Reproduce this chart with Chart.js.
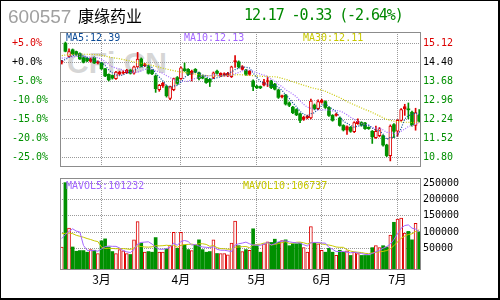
<!DOCTYPE html>
<html>
<head>
<meta charset="utf-8">
<script src="https://cdn.jsdelivr.net/npm/chart.js@4.4.1/dist/chart.umd.min.js"></script>
<style>
  html, body { margin: 0; padding: 0; background: #fff; }
  #wrap { position: relative; width: 500px; height: 300px; overflow: hidden; background: #fff; }
  #frame { position: absolute; left: 0; top: 0; width: 500px; height: 300px; box-sizing: border-box;
           border: 1px solid #000; border-right-width: 2px; border-bottom-width: 2px; z-index: 5; }
  canvas { position: absolute; left: 0; z-index: 2; }
  #priceCanvas { top: 0; }
  #volCanvas { top: 170px; }
  .txt { position: absolute; white-space: nowrap; z-index: 3; }
  .small { font: 10px "DejaVu Sans Mono", monospace; }
  #code { left: 8px; top: 6px; font: 19px "Liberation Sans", Arial, sans-serif; color: #a0a0a0; }
  #name { left: 78px; top: 3px; font: 16px "Noto Sans CJK SC", sans-serif; color: #000; }
  #quote { left: 244px; top: 6px; font: 15px "DejaVu Sans Mono", monospace; letter-spacing: -1.1px; color: #008800; }
  #mark { left: 67px; top: 46px; font: bold 30px "Liberation Sans", Arial, sans-serif; color: #d6d6d6; z-index: 1; }
</style>
</head>
<body>
<div id="wrap">
  <div id="code" class="txt"></div>
  <div id="name" class="txt"></div>
  <div id="quote" class="txt"></div>
  <div id="mark" class="txt">CFi.CN</div>
  <div id="ma5Label" class="txt small" style="left:66px;top:32px;color:#0a4a96"></div>
  <div id="ma10Label" class="txt small" style="left:184px;top:32px;color:#a366ff"></div>
  <div id="ma30Label" class="txt small" style="left:303px;top:32px;color:#c8c800"></div>
  <div id="mavol5Label" class="txt small" style="left:66px;top:180px;color:#a366ff"></div>
  <div id="mavol10Label" class="txt small" style="left:243px;top:180px;color:#c8c800"></div>
  <canvas id="priceCanvas" width="500" height="175"></canvas>
  <canvas id="volCanvas" width="500" height="130"></canvas>
  <div id="frame"></div>
</div>
<script>
const stockCode = "600557";
const stockName = "康缘药业";
const lastPrice = 12.17;
const priceChange = -0.33;
const changePct = -2.64;
const basePrice = 14.40;

const monthStarts = [11, 33, 54, 72, 93];
const monthNames = ["3月", "4月", "5月", "6月", "7月"];
const priceTicks = [15.12, 14.40, 13.68, 12.96, 12.24, 11.52, 10.80];
const pctTicks = [5, 0, -5, -10, -15, -20, -25];
const volTicks = [250000, 200000, 150000, 100000, 50000];

const opens = [
  14.40, 15.12, 14.62, 14.87, 14.80, 14.72, 14.57, 14.55, 14.43, 14.57,
  14.37, 14.37, 14.15, 13.94, 13.90, 13.78, 13.95, 13.98, 14.00, 14.10,
  13.98, 14.22, 14.52, 14.27, 14.22, 14.10, 13.88, 13.36, 13.50, 13.48,
  13.03, 13.36, 13.82, 13.78, 14.15, 14.13, 13.94, 14.13, 14.00, 13.88,
  13.78, 13.75, 13.82, 14.06, 13.88, 13.90, 13.88, 13.85, 14.42, 14.41,
  14.13, 14.10, 13.94, 13.69, 13.49, 13.48, 13.53, 13.67, 13.69, 13.57,
  13.35, 13.10, 13.16, 12.86, 12.70, 12.61, 12.45, 12.24, 12.29, 12.29,
  12.78, 12.64, 12.88, 12.91, 12.69, 12.39, 12.39, 12.29, 12.01, 11.83,
  11.94, 11.77, 12.08, 12.12, 12.10, 11.94, 11.79, 11.55, 11.62, 11.62,
  11.27, 10.87, 12.04, 11.79, 12.20, 12.64, 12.63, 12.51, 12.01, 12.39
];
const highs = [
  14.47, 15.16, 14.90, 14.90, 14.82, 14.75, 14.60, 14.57, 14.56, 14.60,
  14.45, 14.40, 14.17, 13.96, 13.92, 14.05, 14.06, 14.08, 14.13, 14.12,
  14.25, 14.77, 14.56, 14.36, 14.28, 14.12, 13.92, 13.56, 13.64, 13.52,
  13.50, 13.80, 13.86, 14.22, 14.37, 14.16, 14.10, 14.16, 14.03, 13.90,
  13.80, 13.78, 14.03, 14.10, 14.00, 14.00, 14.02, 14.25, 14.65, 14.45,
  14.27, 14.13, 14.09, 13.73, 13.53, 13.50, 13.75, 13.82, 13.72, 13.60,
  13.38, 13.16, 13.18, 12.90, 12.73, 12.64, 12.48, 12.36, 12.40, 13.01,
  12.82, 12.98, 13.00, 12.94, 12.71, 12.42, 12.48, 12.32, 12.04, 12.00,
  11.97, 12.15, 12.26, 12.15, 12.13, 11.96, 11.82, 11.99, 11.93, 11.65,
  11.30, 12.03, 12.08, 12.23, 12.65, 12.81, 12.86, 12.55, 12.66, 12.61
];
const lows = [
  14.33, 14.79, 14.60, 14.68, 14.66, 14.50, 14.37, 14.42, 14.40, 14.35,
  14.33, 14.12, 13.85, 13.69, 13.76, 13.75, 13.92, 13.95, 13.97, 13.95,
  13.95, 14.20, 14.22, 14.23, 13.95, 13.93, 13.26, 13.30, 13.45, 13.08,
  12.98, 13.32, 13.56, 13.75, 14.05, 13.90, 13.69, 14.00, 13.73, 13.77,
  13.60, 13.48, 13.78, 13.95, 13.85, 13.87, 13.85, 13.82, 14.20, 14.18,
  14.10, 13.90, 13.90, 13.32, 13.40, 13.40, 13.50, 13.48, 13.40, 13.35,
  13.03, 13.05, 12.78, 12.72, 12.45, 12.38, 12.11, 12.20, 12.26, 12.26,
  12.60, 12.61, 12.85, 12.65, 12.35, 12.17, 12.36, 11.98, 11.80, 11.67,
  11.75, 11.74, 12.05, 11.98, 11.86, 11.86, 11.33, 11.52, 11.58, 11.23,
  10.83, 10.67, 11.55, 11.60, 12.17, 12.39, 12.26, 11.98, 11.83, 12.14
];
const closes = [
  14.41, 14.81, 14.80, 14.72, 14.70, 14.52, 14.40, 14.45, 14.52, 14.37,
  14.41, 14.15, 13.88, 13.73, 13.80, 14.03, 14.03, 14.01, 14.10, 13.98,
  14.22, 14.52, 14.25, 14.31, 13.98, 13.96, 13.40, 13.53, 13.60, 13.13,
  13.48, 13.78, 13.60, 14.19, 14.08, 13.94, 14.06, 14.03, 13.78, 13.80,
  13.63, 13.65, 14.00, 13.98, 13.98, 13.97, 13.98, 14.22, 14.44, 14.22,
  14.23, 13.94, 14.06, 13.48, 13.43, 13.43, 13.65, 13.69, 13.44, 13.38,
  13.07, 13.13, 12.82, 12.77, 12.49, 12.41, 12.20, 12.33, 12.36, 12.93,
  12.64, 12.91, 12.96, 12.69, 12.39, 12.20, 12.42, 12.01, 11.84, 11.97,
  11.79, 12.12, 12.17, 12.02, 11.89, 11.89, 11.58, 11.79, 11.89, 11.27,
  10.87, 11.99, 11.79, 12.20, 12.61, 12.72, 12.60, 12.02, 12.50, 12.17
];
const volumes = [
  54000, 252000, 112000, 54000, 41000, 43000, 43000, 38000, 46000, 44000,
  34000, 73000, 79000, 54000, 40000, 34000, 46000, 42000, 34000, 31000,
  76000, 132000, 66000, 38000, 40000, 38000, 83000, 38000, 38000, 48000,
  60000, 99000, 50000, 99000, 60000, 46000, 43000, 60000, 76000, 46000,
  38000, 40000, 76000, 34000, 34000, 34000, 30000, 66000, 134000, 58000,
  40000, 46000, 44000, 110000, 58000, 38000, 64000, 70000, 68000, 78000,
  68000, 74000, 76000, 58000, 64000, 64000, 66000, 52000, 38000, 117000,
  68000, 64000, 44000, 38000, 50000, 38000, 28000, 44000, 38000, 42000,
  28000, 38000, 34000, 28000, 28000, 28000, 52000, 58000, 52000, 58000,
  54000, 91000, 130000, 140000, 143000, 97000, 102000, 76000, 127000, 101000
];
const ma5 = [
  14.45, 14.50, 14.58, 14.65, 14.69, 14.71, 14.63, 14.56, 14.52, 14.45,
  14.43, 14.38, 14.27, 14.11, 13.99, 13.92, 13.89, 13.92, 13.99, 14.03,
  14.07, 14.17, 14.21, 14.26, 14.26, 14.20, 13.98, 13.84, 13.69, 13.52,
  13.43, 13.50, 13.52, 13.64, 13.83, 13.92, 13.97, 14.06, 13.98, 13.92,
  13.86, 13.78, 13.77, 13.81, 13.85, 13.92, 13.98, 14.03, 14.12, 14.17,
  14.22, 14.21, 14.18, 13.99, 13.83, 13.67, 13.61, 13.54, 13.53, 13.52,
  13.45, 13.34, 13.17, 13.03, 12.86, 12.72, 12.54, 12.44, 12.36, 12.45,
  12.49, 12.63, 12.76, 12.83, 12.72, 12.63, 12.53, 12.34, 12.17, 12.09,
  12.01, 11.95, 11.98, 12.01, 12.00, 12.02, 11.91, 11.83, 11.81, 11.68,
  11.48, 11.56, 11.56, 11.62, 11.89, 12.26, 12.38, 12.43, 12.49, 12.39
];
const ma10 = [
  14.55, 14.56, 14.58, 14.60, 14.62, 14.62, 14.61, 14.60, 14.59, 14.57,
  14.57, 14.51, 14.42, 14.32, 14.22, 14.18, 14.14, 14.10, 14.05, 14.01,
  14.00, 14.03, 14.07, 14.13, 14.15, 14.14, 14.08, 14.03, 13.98, 13.89,
  13.82, 13.74, 13.68, 13.67, 13.68, 13.68, 13.74, 13.79, 13.81, 13.88,
  13.89, 13.88, 13.92, 13.90, 13.89, 13.89, 13.88, 13.90, 13.97, 14.01,
  14.07, 14.10, 14.11, 14.06, 14.00, 13.95, 13.91, 13.86, 13.76, 13.68,
  13.56, 13.48, 13.36, 13.28, 13.19, 13.09, 12.94, 12.81, 12.70, 12.66,
  12.61, 12.59, 12.60, 12.60, 12.59, 12.56, 12.58, 12.55, 12.50, 12.41,
  12.32, 12.24, 12.16, 12.09, 12.05, 12.02, 11.93, 11.91, 11.91, 11.84,
  11.75, 11.74, 11.70, 11.72, 11.79, 11.87, 11.97, 12.00, 12.06, 12.13
];
const ma30 = [
  14.65, 14.67, 14.69, 14.70, 14.70, 14.70, 14.70, 14.70, 14.69, 14.69,
  14.68, 14.66, 14.63, 14.60, 14.57, 14.55, 14.53, 14.50, 14.47, 14.44,
  14.41, 14.39, 14.36, 14.33, 14.31, 14.28, 14.24, 14.21, 14.17, 14.14,
  14.11, 14.08, 14.05, 14.03, 14.01, 13.99, 13.97, 13.95, 13.93, 13.91,
  13.90, 13.89, 13.88, 13.88, 13.88, 13.89, 13.90, 13.91, 13.92, 13.93,
  13.92, 13.91, 13.90, 13.89, 13.88, 13.87, 13.86, 13.86, 13.85, 13.85,
  13.83, 13.79, 13.75, 13.71, 13.66, 13.62, 13.57, 13.53, 13.49, 13.44,
  13.41, 13.38, 13.35, 13.30, 13.24, 13.18, 13.12, 13.06, 12.99, 12.91,
  12.85, 12.79, 12.73, 12.67, 12.61, 12.56, 12.50, 12.43, 12.37, 12.30,
  12.24, 12.20, 12.17, 12.15, 12.14, 12.13, 12.13, 12.12, 12.12, 12.11
];
const mavol5 = [
  80000, 92000, 102000, 110000, 103000, 100000, 59000, 44000, 43000, 43000,
  41000, 48000, 55000, 57000, 56000, 56000, 51000, 43000, 39000, 37000,
  46000, 63000, 68000, 69000, 70000, 63000, 53000, 47000, 47000, 49000,
  53000, 66000, 59000, 71000, 74000, 71000, 60000, 62000, 57000, 54000,
  53000, 52000, 55000, 47000, 44000, 44000, 42000, 40000, 60000, 64000,
  66000, 69000, 64000, 60000, 60000, 59000, 63000, 68000, 60000, 64000,
  70000, 72000, 73000, 70000, 68000, 67000, 66000, 61000, 57000, 67000,
  68000, 68000, 66000, 66000, 53000, 47000, 40000, 40000, 40000, 38000,
  36000, 38000, 36000, 34000, 31000, 31000, 34000, 39000, 44000, 50000,
  55000, 63000, 77000, 95000, 112000, 120000, 122000, 112000, 109000, 101232
];
const mavol10 = [
  95000, 96000, 97000, 95000, 90000, 87000, 84000, 80000, 77000, 73000,
  70500, 53500, 49500, 50000, 49500, 48500, 49500, 49000, 48000, 46500,
  51000, 57000, 55500, 54000, 53500, 54500, 58000, 57500, 58000, 59500,
  58000, 59500, 53000, 59000, 61500, 62000, 63000, 60500, 64000, 64000,
  62000, 56000, 58500, 52000, 49000, 48500, 47000, 47500, 53500, 54000,
  55000, 55500, 52000, 60000, 62000, 62500, 66000, 66000, 60000, 62000,
  64500, 67500, 70500, 65000, 66000, 68500, 69000, 67000, 63500, 67500,
  67500, 67000, 63500, 61500, 60000, 57500, 54000, 53000, 53000, 45500,
  41500, 39000, 38000, 37000, 34500, 33500, 36000, 37500, 39000, 40500,
  43000, 48500, 58000, 69500, 81000, 87500, 92500, 94500, 102000, 106737
];

// axis bounds (pixel fit to the reference frame)
const priceMin = 10.44, priceMax = 15.54;
const volMin = -16800, volMax = 266300;

const RED = "#dd0000";
const GREEN = "#009000";
const GRID = "#9a9a9a";
const MA5C = "#0a4a96", MA10C = "#a366ff", MA30C = "#c8c800";
const tickFont = { family: "DejaVu Sans Mono", size: 10 };
const gridDash = [1, 1];

const last = arr => arr[arr.length - 1];
const isUp = i => closes[i] >= opens[i];
const labels = closes.map((c, i) => {
    const k = monthStarts.indexOf(i);
    return k >= 0 ? monthNames[k] : "";
});
const monthGrid = ctx => monthStarts.includes(ctx.index) ? GRID : "rgba(0,0,0,0)";

document.getElementById("code").textContent = stockCode;
document.getElementById("name").textContent = stockName;
document.getElementById("quote").textContent =
    lastPrice.toFixed(2) + " " + priceChange.toFixed(2) + " (" + changePct.toFixed(2) + "%)";
document.getElementById("ma5Label").textContent = "MA5:" + last(ma5).toFixed(2);
document.getElementById("ma10Label").textContent = "MA10:" + last(ma10).toFixed(2);
document.getElementById("ma30Label").textContent = "MA30:" + last(ma30).toFixed(2);
document.getElementById("mavol5Label").textContent = "MAVOL5:" + last(mavol5);
document.getElementById("mavol10Label").textContent = "MAVOL10:" + last(mavol10);

// grey frame round each plot area
const plotFrame = {
    id: "plotFrame",
    afterDatasetsDraw(chart) {
        const a = chart.chartArea, c = chart.ctx;
        c.save();
        c.strokeStyle = "#8c8c8c";
        c.lineWidth = 1;
        c.strokeRect(a.left + 0.5, a.top + 0.5, a.right - a.left - 1, a.bottom - a.top - 1);
        c.restore();
    }
};

function bodyFill(ctx) {
    const i = ctx.dataIndex;
    if (!isUp(i)) return GREEN;
    const y = ctx.chart.scales.y;
    const h = Math.abs(y.getPixelForValue(opens[i]) - y.getPixelForValue(closes[i]));
    return h < 4 ? RED : "#ffffff";
}

function maLine(data, color) {
    return {
        type: "line", data: data, borderColor: color, borderWidth: 1.2,
        borderDash: [1, 1.5], pointRadius: 0, fill: false, tension: 0, yAxisID: "y"
    };
}

new Chart(document.getElementById("priceCanvas"), {
    type: "bar",
    data: {
        labels: labels,
        datasets: [
            maLine(ma5, MA5C),
            maLine(ma10, MA10C),
            maLine(ma30, MA30C),
            {
                data: opens.map((o, i) => [o, closes[i]]),
                grouped: false, barThickness: 3, minBarLength: 1,
                backgroundColor: bodyFill,
                borderColor: ctx => isUp(ctx.dataIndex) ? RED : GREEN,
                borderWidth: ctx => isUp(ctx.dataIndex) ? 1 : 0,
                borderSkipped: false, yAxisID: "y"
            },
            {
                data: lows.map((l, i) => [l, highs[i]]),
                grouped: false, barThickness: 1,
                backgroundColor: ctx => isUp(ctx.dataIndex) ? RED : GREEN,
                borderWidth: 0, yAxisID: "y"
            }
        ]
    },
    options: {
        responsive: false, maintainAspectRatio: false, animation: false, devicePixelRatio: 1,
        layout: { padding: { left: 12, right: 0, top: 32, bottom: 6 } },
        plugins: { legend: { display: false }, tooltip: { enabled: false } },
        scales: {
            x: {
                type: "category", offset: true,
                grid: { offset: false, drawTicks: false, color: monthGrid },
                border: { display: false, dash: gridDash },
                ticks: { display: false },
                afterFit: s => { s.height = 0; }
            },
            y: {
                position: "right", min: priceMin, max: priceMax,
                afterBuildTicks: s => { s.ticks = priceTicks.map(v => ({ value: v })); },
                afterFit: s => { s.width = 79; },
                grid: { color: GRID, drawTicks: false },
                border: { display: false, dash: gridDash },
                ticks: {
                    padding: 2, font: tickFont,
                    color: ctx => ctx.tick.value > basePrice ? RED : (ctx.tick.value === basePrice ? "#000" : GREEN),
                    callback: v => v.toFixed(2)
                }
            },
            yPct: {
                position: "left",
                min: (priceMin / basePrice - 1) * 100, max: (priceMax / basePrice - 1) * 100,
                afterBuildTicks: s => { s.ticks = pctTicks.map(v => ({ value: v })); },
                afterFit: s => { s.width = 48; },
                grid: { display: false, drawTicks: false },
                border: { display: false },
                ticks: {
                    crossAlign: "far", padding: 0, font: tickFont,
                    color: ctx => ctx.tick.value > 0 ? RED : (ctx.tick.value === 0 ? "#000" : GREEN),
                    callback: v => (v >= 0 ? "+" : "") + v.toFixed(1) + "%"
                }
            }
        }
    },
    plugins: [plotFrame]
});

new Chart(document.getElementById("volCanvas"), {
    type: "bar",
    data: {
        labels: labels,
        datasets: [
            { type: "line", data: mavol5, borderColor: MA10C, borderWidth: 1, pointRadius: 0, fill: false, tension: 0 },
            { type: "line", data: mavol10, borderColor: MA30C, borderWidth: 1, pointRadius: 0, fill: false, tension: 0 },
            {
                data: volumes, grouped: false, barThickness: 3, base: volMin,
                backgroundColor: ctx => isUp(ctx.dataIndex) ? "#ffffff" : GREEN,
                borderColor: ctx => isUp(ctx.dataIndex) ? RED : GREEN,
                borderWidth: ctx => isUp(ctx.dataIndex) ? 1 : 0,
                borderSkipped: false
            }
        ]
    },
    options: {
        responsive: false, maintainAspectRatio: false, animation: false, devicePixelRatio: 1,
        layout: { padding: { left: 60, right: 0, top: 8, bottom: 10 } },
        plugins: { legend: { display: false }, tooltip: { enabled: false } },
        scales: {
            x: {
                type: "category", offset: true,
                grid: { offset: false, drawTicks: false, color: monthGrid },
                border: { display: false, dash: gridDash },
                ticks: { autoSkip: false, maxRotation: 0, padding: 2, color: "#000",
                         font: { family: "Noto Sans CJK SC", size: 12 } },
                afterFit: s => { s.height = 20; }
            },
            y: {
                position: "right", min: volMin, max: volMax,
                afterBuildTicks: s => { s.ticks = volTicks.map(v => ({ value: v })); },
                afterFit: s => { s.width = 79; },
                grid: { color: GRID, drawTicks: false },
                border: { display: false, dash: gridDash },
                ticks: { padding: 2, font: tickFont, color: "#000", callback: v => String(v) }
            }
        }
    },
    plugins: [plotFrame]
});
</script>
</body>
</html>
